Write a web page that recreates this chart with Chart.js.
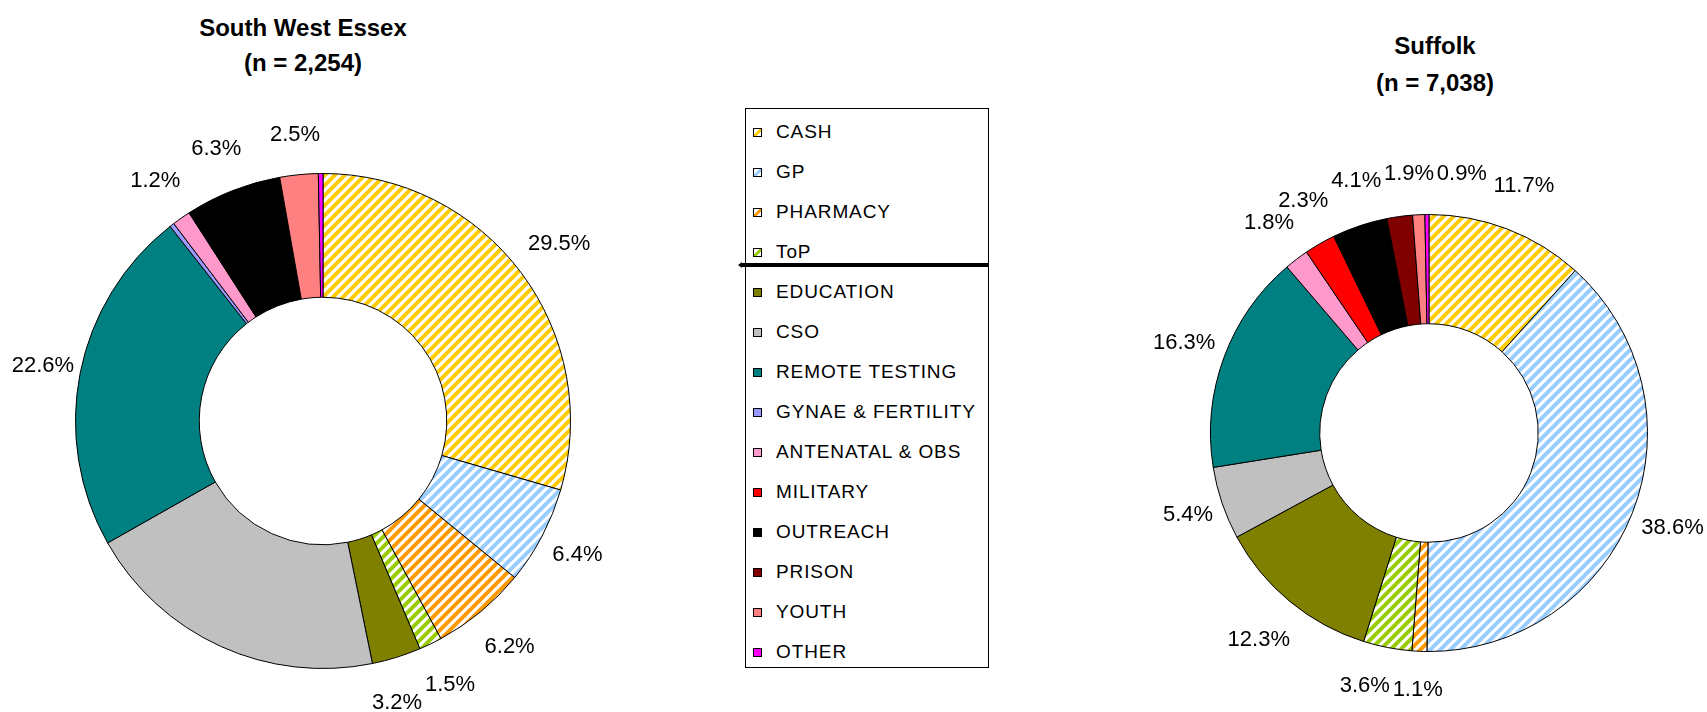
<!DOCTYPE html>
<html>
<head>
<meta charset="utf-8">
<script src="https://cdn.jsdelivr.net/npm/chart.js@4.4.1/dist/chart.umd.min.js"></script>
<style>
    body { margin: 0; background: #fff; width: 1707px; height: 712px; position: relative; overflow: hidden;
           font-family: "Liberation Sans", Arial, sans-serif; }
    canvas { position: absolute; top: 0; }
    .title { position: absolute; width: 400px; text-align: center; font-weight: bold; font-size: 24px; color: #000; }
    #legend { position: absolute; left: 745px; top: 108px; width: 242px; height: 558px; border: 1px solid #000; }
    .item { position: absolute; left: 0; height: 40px; line-height: 40px; font-size: 19px; letter-spacing: 0.9px; white-space: nowrap; }
    .swatch { position: absolute; left: 7px; top: 16px; width: 7px; height: 7px; border: 1px solid #000; }
    .item span.txt { position: absolute; left: 30px; }
    #sep { position: absolute; left: 742px; top: 263px; width: 247px; height: 4px; background: #000; }
    #sepTip { position: absolute; left: 738px; top: 262px; width: 0; height: 0;
              border-top: 3px solid transparent; border-bottom: 3px solid transparent; border-right: 4px solid #000; }
</style>
</head>
<body>
<div class="title" style="left:103px; top:10px; line-height:35px;">South West Essex<br>(n = 2,254)</div>
<div class="title" style="left:1235px; top:27px; line-height:37px;">Suffolk<br>(n = 7,038)</div>
<canvas id="essexChart" width="700" height="712" style="left:0"></canvas>
<canvas id="suffolkChart" width="707" height="712" style="left:1000px"></canvas>
<div id="legend"></div>
<div id="sep"></div>
<div id="sepTip"></div>
<script>
// Categories (legend order, also slice order clockwise from 12 o'clock)
const categories = ["CASH", "GP", "PHARMACY", "ToP", "EDUCATION", "CSO", "REMOTE TESTING",
    "GYNAE & FERTILITY", "ANTENATAL & OBS", "MILITARY", "OUTREACH", "PRISON", "YOUTH", "OTHER"];

// Percentages
const essexValues = [29.5, 6.4, 6.2, 1.5, 3.2, 20.0, 22.6, 0.3, 1.2, 0, 6.3, 0, 2.5, 0.3];
const suffolkValues = [11.7, 38.6, 1.1, 3.6, 12.3, 5.4, 16.3, 0, 1.8, 2.3, 4.1, 1.9, 0.9, 0.3];

// Labels that are not shown on the Essex ring
const essexHiddenLabels = ["CSO"];

const sliceColors = ["#FFCC00", "#99CCFF", "#FF9900", "#99CC00", "#808000", "#C0C0C0", "#008080",
    "#9999FF", "#FF99CC", "#FF0000", "#000000", "#800000", "#FF8080", "#FF00FF"];
const hatchedCategories = ["CASH", "GP", "PHARMACY", "ToP"];

// Diagonal stripe pattern like Excel's "wide upward diagonal"
function makeStripes(color) {
    const size = 10;
    const tile = document.createElement("canvas");
    tile.width = size;
    tile.height = size;
    const t = tile.getContext("2d");
    t.fillStyle = "#fff";
    t.fillRect(0, 0, size, size);
    t.strokeStyle = color;
    t.lineWidth = 4;
    t.beginPath();
    t.moveTo(-2, size + 2); t.lineTo(size + 2, -2);
    t.moveTo(-size / 2 - 2, size / 2 + 2); t.lineTo(size / 2 + 2, -size / 2 - 2);
    t.moveTo(size / 2 - 2, size * 1.5 + 2); t.lineTo(size * 1.5 + 2, size / 2 - 2);
    t.stroke();
    return t.createPattern(tile, "repeat");
}

function fillsFor() {
    return categories.map((c, i) =>
        hatchedCategories.includes(c) ? makeStripes(sliceColors[i]) : sliceColors[i]);
}

// Percent labels outside the ring, nudged clockwise when they collide
const outsideLabels = {
    id: "outsideLabels",
    afterDatasetsDraw(chart, args, opts) {
        const ctx = chart.ctx;
        const meta = chart.getDatasetMeta(0);
        const values = chart.data.datasets[0].data;
        const hide = opts.hide || [];
        const placed = [];
        const h = 22;
        ctx.save();
        ctx.font = '22px "Liberation Sans", Arial, sans-serif';
        ctx.fillStyle = "#000";
        ctx.textAlign = "center";
        ctx.textBaseline = "middle";
        meta.data.forEach((arc, i) => {
            const v = values[i];
            if (v < 0.5 || hide.includes(chart.data.labels[i])) return;
            const p = arc.getProps(["x", "y", "startAngle", "endAngle", "outerRadius"], true);
            const mid = (p.startAngle + p.endAngle) / 2;
            const text = v.toFixed(1) + "%";
            const w = ctx.measureText(text).width;
            const dx = Math.cos(mid), dy = Math.sin(mid);
            const r = p.outerRadius + Math.abs(dx) * w / 2 + Math.abs(dy) * 38;
            let x = p.x + dx * r;
            let y = p.y + dy * r;
            const tx = -dy, ty = dx;
            let guard = 0;
            while (placed.some(b => Math.abs(b.x - x) < (b.w + w) / 2 + 2 && Math.abs(b.y - y) < h) && guard++ < 300) {
                x += tx;
                y += ty;
            }
            placed.push({ x, y, w });
            ctx.fillText(text, x, y);
        });
        ctx.restore();
    }
};

function createRing(canvasId, values, padding, hidden) {
    const ctx = document.getElementById(canvasId).getContext("2d");
    return new Chart(ctx, {
        type: "doughnut",
        data: {
            labels: categories,
            datasets: [{
                data: values,
                backgroundColor: fillsFor(),
                borderColor: "#000",
                borderWidth: 1
            }]
        },
        options: {
            responsive: false,
            animation: false,
            cutout: "50%",
            layout: { padding: padding },
            events: [],
            plugins: {
                legend: { display: false },
                tooltip: { enabled: false },
                outsideLabels: { hide: hidden }
            }
        },
        plugins: [outsideLabels]
    });
}

createRing("essexChart", essexValues, { left: 75, right: 129, top: 173, bottom: 43 }, essexHiddenLabels);
createRing("suffolkChart", suffolkValues, { left: 210, right: 59, top: 214, bottom: 60 }, []);

// Legend box
const legend = document.getElementById("legend");
categories.forEach((c, i) => {
    const item = document.createElement("div");
    item.className = "item";
    item.style.top = (3 + 40 * i) + "px";
    const sw = document.createElement("span");
    sw.className = "swatch";
    sw.style.background = hatchedCategories.includes(c)
        ? `linear-gradient(135deg, #fff 38%, ${sliceColors[i]} 38%, ${sliceColors[i]} 68%, #fff 68%)`
        : sliceColors[i];
    const txt = document.createElement("span");
    txt.className = "txt";
    txt.textContent = c;
    item.appendChild(sw);
    item.appendChild(txt);
    legend.appendChild(item);
});
</script>
</body>
</html>
